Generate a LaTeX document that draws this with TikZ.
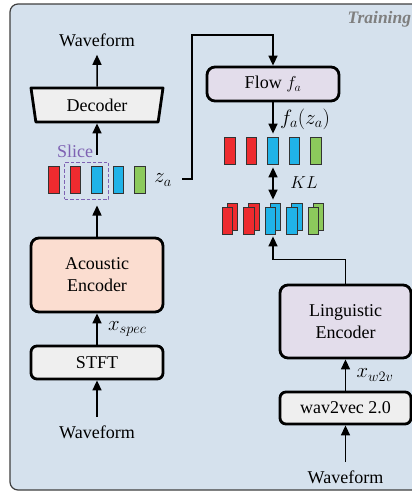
\documentclass[tikz,border=0pt]{standalone}
\usepackage{fontspec}
\setmainfont{Liberation Serif}
\usetikzlibrary{arrows.meta,shapes.geometric}
\definecolor{panel}{HTML}{D5E1ED}
\definecolor{framegray}{HTML}{3F3F3F}
\definecolor{boxgray}{HTML}{EFEFEF}
\definecolor{peach}{HTML}{FBDDD0}
\definecolor{lilac}{HTML}{E3DDEB}
\definecolor{barred}{HTML}{EE2B2F}
\definecolor{barblue}{HTML}{20B3E8}
\definecolor{bargreen}{HTML}{8CC95C}
\definecolor{slicepurple}{HTML}{7E62B3}
\definecolor{traingray}{HTML}{7F7F7F}

\tikzset{
  lbl/.style={font=\fontsize{18}{22}\selectfont},
  mlbl/.style={font=\fontsize{20.5}{24}\selectfont},
  wave/.style={lbl,outer ysep=5pt},
  blk/.style={lbl,draw=black,line width=2.8pt,rounded corners=8pt,align=center,
    minimum width=132pt,inner sep=0pt},
  flowarr/.style={line width=1.5pt,-{Triangle[length=10pt,width=9pt]}},
  bar/.style={draw=black!80,line width=0.8pt,minimum width=10.5pt,minimum height=27pt,inner sep=0pt},
}

\begin{document}
\begin{tikzpicture}[x=1pt,y=-1pt]
    \useasboundingbox (0,0) rectangle (412,493);

    % training panel (runs off the right edge)
    \draw[framegray,line width=1.2pt,fill=panel,rounded corners=8pt] (10,4) rectangle (440,490);
    \node[anchor=west,font=\fontsize{17.5}{20}\selectfont\bfseries\itshape,text=traingray] (train) at (344,19) {Training};

    % acoustic branch
    \node[wave] (wavout) at (97,40) {Waveform};
    \node[lbl,trapezium,shape border rotate=180,trapezium angle=69,trapezium stretches body,
      draw,line width=2.8pt,line join=round,fill=boxgray,minimum width=132pt,minimum height=34pt,inner sep=0pt] (dec) at (97,105) {Decoder};

    \foreach \i/\c in {1/barred,2/barred,3/barblue,4/barblue,5/bargreen}
      \node[bar,fill=\c] (za\i) at ({97+21.5*(\i-3)},180) {};
    \node[draw=slicepurple,line width=1pt,dash pattern=on 3.5pt off 2pt,minimum width=44pt,minimum height=37pt] (slc) at (86.5,180.5) {};
    \node[lbl,text=slicepurple] (slicetxt) at (75,151) {Slice};
    \node[mlbl] (zlab) at (163,180) {$z_a$};
    \coordinate (zout) at (182,179);

    \node[blk,fill=peach,minimum height=74pt] (ac) at (97,275) {Acoustic\\Encoder};
    \node[blk,fill=boxgray,minimum height=33pt,rounded corners=6pt] (stft) at (97,362.5) {STFT};
    \node[wave] (wavin) at (97,432) {Waveform};

    \draw[flowarr] (wavin) -- (stft);
    \draw[flowarr] (stft) -- (ac) node[mlbl,midway,anchor=west,xshift=7pt] (xspec) {$x_{spec}$};
    \draw[flowarr,shorten >=6pt] (ac.north) -- (ac.north |- slc.south);
    \draw[flowarr,shorten <=7pt] (dec.south |- slc.north) -- (dec.south);
    \draw[flowarr] (dec) -- (wavout);

    % flow branch
    \node[blk,fill=lilac,minimum height=34pt] (flow) at (273,84) {Flow $f_a$};
    \draw[line width=1.5pt,-{Triangle[length=10pt,width=9pt]}] (zout) -| (192,35) -| (flow.north);

    \foreach \i/\c in {1/barred,2/barred,3/barblue,4/barblue,5/bargreen} {
      \node[bar,fill=\c] (fz\i) at ({273+21.5*(\i-3)},150.5) {};
      \node[bar,fill=\c] (bk\i) at ({275.5+21.5*(\i-3)},216.5) {};
      \node[bar,fill=\c] (fr\i) at ({270.5+21.5*(\i-3)},221) {};
    }
    \draw[flowarr,shorten >=3pt] (flow) -- (flow.south |- fz3.north) node[mlbl,midway,anchor=west,xshift=3pt] (fzlab) {$f_a(z_a)$};
    \draw[line width=1.5pt,{Triangle[length=10pt,width=9pt]}-{Triangle[length=10pt,width=9pt]},shorten <=3pt,shorten >=3pt]
      (fz3.south) -- (fz3.south |- bk3.north);
    \node[lbl] (kl) at (304,183) {$KL$};

    % linguistic branch
    \node[blk,fill=lilac,minimum width=131pt,minimum height=73pt] (ling) at (345.5,321.5) {Linguistic\\Encoder};
    \node[blk,fill=boxgray,minimum width=131pt,minimum height=32pt,rounded corners=6pt] (w2v) at (345.5,408) {wav2vec 2.0};
    \node[wave] (wavin2) at (345.5,477) {Waveform};
    \coordinate (pairbot) at (fz3.south |- fr3.south);

    \draw[flowarr] (wavin2) -- (w2v);
    \draw[flowarr] (w2v) -- (ling) node[mlbl,midway,anchor=west,xshift=7pt] (xw2v) {$x_{w2v}$};
    \draw[flowarr,shorten >=1.5pt] (ling.north) -- ++(0,-24) -| (pairbot);
\end{tikzpicture}
\end{document}
